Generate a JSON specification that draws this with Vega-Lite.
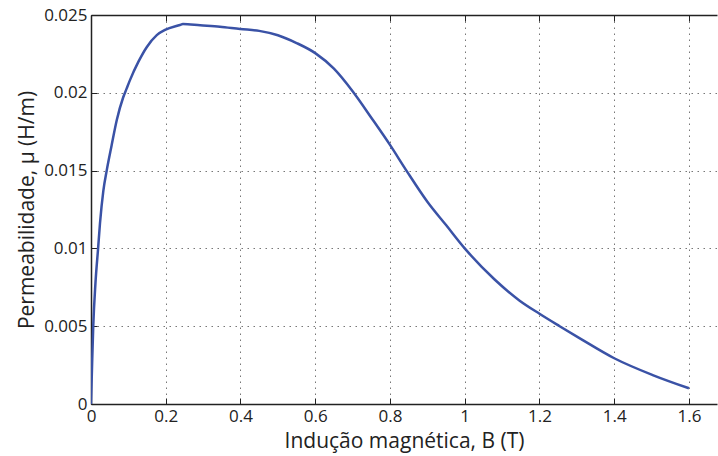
{
  "$schema": "https://vega.github.io/schema/vega-lite/v6.json",
  "width": 626,
  "height": 389,
  "autosize": {"type": "none"},
  "padding": {"left": 91, "top": 15, "right": 1, "bottom": 52},
  "background": "white",
  "config": {
    "view": {"stroke": null},
    "axis": {"labelFont": "Open Sans", "titleFont": "Open Sans", "labelColor": "#222", "titleColor": "#222", "domainColor": "#222", "tickColor": "#222", "labelFontSize": 17, "titleFontSize": 21, "titleFontWeight": "normal"}
  },
  "data": {"values": [
    {"B": 0, "mu": 0},
    {"B": 0.003, "mu": 0.0026},
    {"B": 0.006, "mu": 0.005},
    {"B": 0.012, "mu": 0.0078},
    {"B": 0.019, "mu": 0.0100},
    {"B": 0.024, "mu": 0.0116},
    {"B": 0.033, "mu": 0.0137},
    {"B": 0.042, "mu": 0.0150},
    {"B": 0.055, "mu": 0.0166},
    {"B": 0.069, "mu": 0.01825},
    {"B": 0.086, "mu": 0.0197},
    {"B": 0.095, "mu": 0.02025},
    {"B": 0.104, "mu": 0.0208},
    {"B": 0.127, "mu": 0.0220},
    {"B": 0.149, "mu": 0.02293},
    {"B": 0.176, "mu": 0.02371},
    {"B": 0.198, "mu": 0.02404},
    {"B": 0.238, "mu": 0.02436},
    {"B": 0.246, "mu": 0.02442},
    {"B": 0.292, "mu": 0.02434},
    {"B": 0.345, "mu": 0.02425},
    {"B": 0.399, "mu": 0.0241},
    {"B": 0.45, "mu": 0.02398},
    {"B": 0.5, "mu": 0.0237},
    {"B": 0.55, "mu": 0.0232},
    {"B": 0.6, "mu": 0.02255},
    {"B": 0.65, "mu": 0.02155},
    {"B": 0.7, "mu": 0.0201},
    {"B": 0.75, "mu": 0.0184},
    {"B": 0.8, "mu": 0.01665},
    {"B": 0.844, "mu": 0.0150},
    {"B": 0.9, "mu": 0.0130},
    {"B": 0.95, "mu": 0.0115},
    {"B": 1.0, "mu": 0.0100},
    {"B": 1.08, "mu": 0.0080},
    {"B": 1.147, "mu": 0.00664},
    {"B": 1.2, "mu": 0.0058},
    {"B": 1.254, "mu": 0.0050},
    {"B": 1.308, "mu": 0.00422},
    {"B": 1.4, "mu": 0.00294},
    {"B": 1.503, "mu": 0.00186},
    {"B": 1.6, "mu": 0.00101}
  ]},
  "layer": [
    {
      "mark": {"type": "line", "color": "#3a52a6", "strokeWidth": 2.5, "clip": true, "interpolate": "monotone"},
      "encoding": {
        "x": {"field": "B", "type": "quantitative", "scale": {"domain": [0, 1.675], "nice": false, "zero": false},
          "axis": {"orient": "bottom", "values": [0, 0.2, 0.4, 0.6, 0.8, 1, 1.2, 1.4, 1.6], "format": "~g", "tickSize": -6, "labelPadding": 10, "grid": true, "gridColor": "#777", "gridDash": [1.5, 4.5], "gridWidth": 1, "title": "Indução magnética, B (T)", "titlePadding": 6, "domainWidth": 1.5, "labelFlush": false}},
        "y": {"field": "mu", "type": "quantitative", "scale": {"domain": [0, 0.025], "nice": false},
          "axis": {"values": [0, 0.005, 0.01, 0.015, 0.02, 0.025], "format": "~g", "tickSize": -6, "labelPadding": 10, "grid": true, "gridColor": "#777", "gridDash": [1.5, 4.5], "gridWidth": 1, "title": "Permeabilidade, µ (H/m)", "titlePadding": 6, "domainWidth": 1.5, "labelFlush": false}}
      }
    },
    {
      "mark": {"type": "line", "opacity": 0},
      "encoding": {
        "x": {"field": "B", "type": "quantitative",
          "axis": {"orient": "top", "values": [0, 0.2, 0.4, 0.6, 0.8, 1, 1.2, 1.4, 1.6], "labels": false, "tickSize": -6, "grid": false, "title": null, "domainWidth": 1.5}},
        "y": {"field": "mu", "type": "quantitative"}
      }
    }
  ],
  "resolve": {"axis": {"x": "independent"}}
}
